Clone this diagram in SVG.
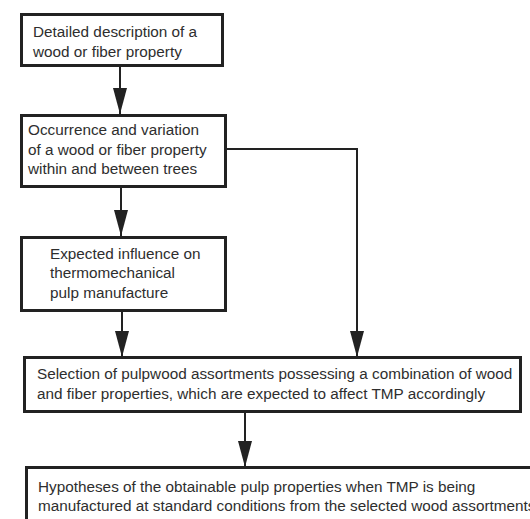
<svg xmlns="http://www.w3.org/2000/svg" width="530" height="519" viewBox="0 0 530 519">
<defs>
<style>
.box{fill:#fff;stroke:#222;stroke-width:3}
.t{font-family:"Liberation Sans",Arial,sans-serif;font-size:15.3px;fill:#2e2e2e}
.c{fill:none;stroke:#222;stroke-width:2}
</style>
<marker id="ah" markerUnits="userSpaceOnUse" markerWidth="26" markerHeight="14" refX="26" refY="7" orient="auto">
<path d="M0,0 L26,7 L0,14 z" fill="#222"/>
</marker>
</defs>
<rect width="530" height="519" fill="#fff"/>
<g id="connectors">
<line class="c" x1="120" y1="66" x2="120" y2="114" marker-end="url(#ah)"/>
<line class="c" x1="121" y1="188" x2="121" y2="236" marker-end="url(#ah)"/>
<line class="c" x1="122" y1="312" x2="122" y2="357" marker-end="url(#ah)"/>
<polyline class="c" points="226,149 357,149 357,357" marker-end="url(#ah)"/>
<line class="c" x1="245" y1="413" x2="245" y2="467" marker-end="url(#ah)"/>
</g>
<g id="n1">
<rect class="box" x="21.5" y="14.5" width="201" height="51"/>
<text class="t" x="33" y="37">Detailed description of a</text>
<text class="t" x="33" y="57">wood or fiber property</text>
</g>
<g id="n2">
<rect class="box" x="21.5" y="115.5" width="204" height="71"/>
<text class="t" x="28" y="135">Occurrence and variation</text>
<text class="t" x="28" y="154.5">of a wood or fiber property</text>
<text class="t" x="28" y="174">within and between trees</text>
</g>
<g id="n3">
<rect class="box" x="21.5" y="237.5" width="204" height="73"/>
<text class="t" x="50" y="258.5">Expected influence on</text>
<text class="t" x="50" y="278">thermomechanical</text>
<text class="t" x="50" y="297.5">pulp manufacture</text>
</g>
<g id="n4">
<rect class="box" x="24.5" y="357.5" width="496" height="54"/>
<text class="t" x="37" y="379">Selection of pulpwood assortments possessing a combination of wood</text>
<text class="t" x="37" y="398.5">and fiber properties, which are expected to affect TMP accordingly</text>
</g>
<g id="n5">
<rect class="box" x="26.5" y="467.5" width="520" height="70"/>
<text class="t" x="38" y="491.5">Hypotheses of the obtainable pulp properties when TMP is being</text>
<text class="t" x="38" y="510.5">manufactured at standard conditions from the selected wood assortments</text>
</g>
</svg>
